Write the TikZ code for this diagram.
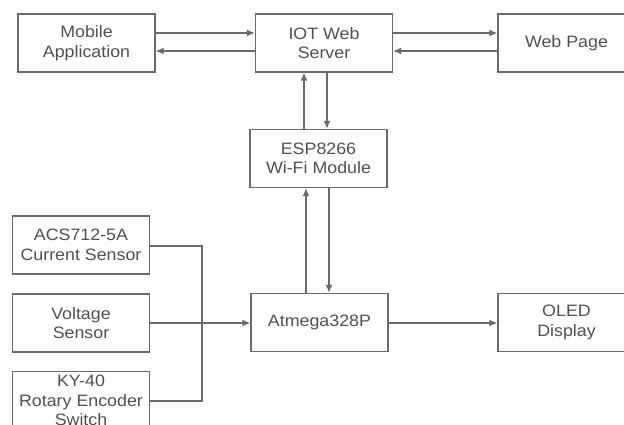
\documentclass[tikz,border=0pt]{standalone}
\usepackage{fontspec}
\setmainfont{Liberation Sans}[FakeStretch=1.08]
\usetikzlibrary{arrows.meta}
\definecolor{boxc}{HTML}{6A6A6A}
\definecolor{txtc}{HTML}{505050}
\tikzset{
  blk/.style={draw=boxc, line width=1.4pt, minimum width=137pt, minimum height=58pt,
    inner sep=0pt, align=center, text=txtc, font=\fontsize{16.5}{19.5}\selectfont},
  con/.style={draw=boxc, line width=1.2pt},
  arr/.style={con, -{Latex[length=8pt,width=7pt]}}
}
\begin{document}
\begin{tikzpicture}[x=1pt,y=-1pt]
\useasboundingbox (0,0) rectangle (624,424);
\clip (0,0) rectangle (624,424);
\node[blk] (mob) at (86.5,43) {Mobile\\Application};
\node[blk] (iot) at (324,43) {IOT Web\\Server};
\node[blk] (web) at (566.5,43) {Web Page};
\node[blk] (esp) at (318.5,158.5) {ESP8266\\Wi-Fi Module};
\node[blk] (atm) at (319.5,322.5) {Atmega328P};
\node[blk] (oled) at (566.5,322.5) {OLED\\Display};
\node[blk] (acs) at (81,245) {ACS712-5A\\Current Sensor};
\node[blk] (volt) at (81,323) {Voltage\\Sensor};
\node[blk] (ky) at (81,400.5) {KY-40\\Rotary Encoder\\Switch};
\coordinate (j1) at (202,246);
\coordinate (j2) at (202,401);
% top row
\draw[arr] (mob.east |- 0,33) -- (iot.west |- 0,33);
\draw[arr] (iot.west |- 0,51) -- (mob.east |- 0,51);
\draw[arr] (iot.east |- 0,33) -- (web.west |- 0,33);
\draw[arr] (web.west |- 0,51) -- (iot.east |- 0,51);
% iot <-> esp
\draw[arr] (esp.north -| 304,0) -- (iot.south -| 304,0);
\draw[arr] (iot.south -| 327,0) -- (esp.north -| 327,0);
% esp <-> atm
\draw[arr] (atm.north -| 306,0) -- (esp.south -| 306,0);
\draw[arr] (esp.south -| 329,0) -- (atm.north -| 329,0);
% atm -> oled
\draw[arr] (atm.east |- 0,323) -- (oled.west |- 0,323);
% sensors
\draw[arr] (volt.east |- 0,323) -- (atm.west |- 0,323);
\draw[con] (acs.east |- j1) -- (j1) -- (j2) -- (ky.east |- j2);
\end{tikzpicture}
\end{document}
